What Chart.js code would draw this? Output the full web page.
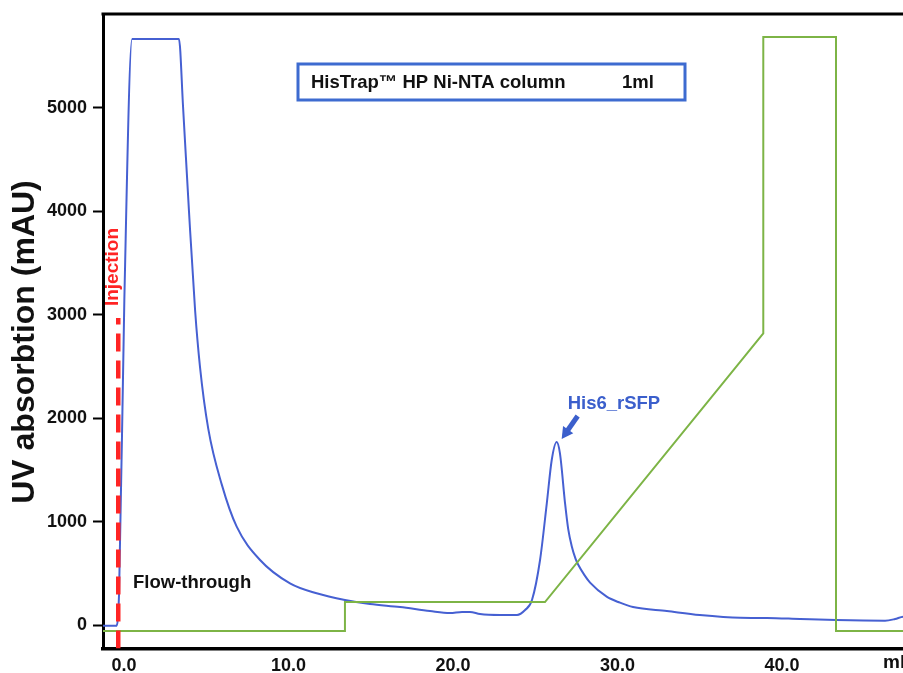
<!DOCTYPE html>
<html>
<head>
<meta charset="utf-8">
<title>HisTrap HP Ni-NTA purification of His6_rSFP</title>
<script src="https://cdn.jsdelivr.net/npm/chart.js@4/dist/chart.umd.min.js"></script>
<style>
  html, body { margin: 0; padding: 0; background: #fff; overflow: hidden; width: 903px; height: 673px; }
  #wrap { position: relative; width: 930px; height: 673px; }
  canvas { display: block; }
</style>
</head>
<body>
<div id="wrap"><canvas id="chrom" width="930" height="673"></canvas></div>
<script>
// Elution volume (ml) and UV absorbance at 280 nm (mAU)
const uvVolume = [-1.28, -0.49, -0.30, 0.02, 0.49, 3.34, 3.59, 3.95, 4.32, 4.62, 5.12, 5.94, 6.85, 8.27,
  10.09, 11.71, 13.43, 14.95, 16.78, 18.6, 19.82, 20.55, 21.03, 21.64, 22.86, 23.89, 24.38, 24.8, 25.29,
  25.7, 26.0, 26.3, 26.5, 26.81, 27.0, 27.22, 27.45, 27.62, 28.0, 28.33, 29.34, 30.15, 30.94, 33.0, 35.0,
  37.45, 39.09, 41.1, 43.28, 46.26, 46.87, 47.36, 48.69];
const uvAbs = [-8, -8, 309, 3143, 5667, 5667, 5010, 4000, 3046, 2495, 1900, 1360, 951, 629,
  403, 307, 242, 203, 174, 135, 116, 126, 126, 106, 97, 97, 145, 242, 629,
  1177, 1596, 1770, 1660, 1177, 930, 760, 640, 580, 480, 410, 274, 216, 174, 135, 97,
  70, 68, 58, 48, 42, 58, 80, 85];

// Imidazole gradient (%B trace, plotted on the mAU axis)
const gradVolume = [-1.28, 13.43, 13.43, 25.59, 38.86, 38.86, 43.28, 43.28, 48.69];
const gradLevel = [-58, -58, 222, 222, 2821, 5687, 5687, -58, -58];

// Sample injection marker
const injectionVolume = -0.35;
const injectionTop = 2970;

// Eluted target protein peak
const peakVolume = 26.3;
const peakAbs = 1770;

// Axis ticks
const volumeTicks = [0, 10, 20, 30, 40];
const absTicks = [0, 1000, 2000, 3000, 4000, 5000];

const X_MIN = -1.277, X_MAX = 48.69;
const Y_MIN = -227, Y_MAX = 5909;

const FONT = '"Liberation Sans", Arial, Helvetica, sans-serif';
const BLUE = '#4660d2';
const GREEN = '#7db446';
const RED = '#ff2424';
const LABEL_BLUE = '#3b5fcc';

const pairs = (xs, ys) => xs.map((v, i) => ({ x: v, y: ys[i] }));

const decorations = {
  id: 'decorations',
  afterDatasetsDraw(chart) {
    const { ctx, chartArea, scales: { x, y } } = chart;
    ctx.save();

    // top frame line
    ctx.strokeStyle = '#000';
    ctx.lineWidth = 3;
    ctx.beginPath();
    ctx.moveTo(chartArea.left - 1.5, chartArea.top);
    ctx.lineTo(chartArea.right, chartArea.top);
    ctx.stroke();

    // y axis title
    ctx.save();
    ctx.translate(25, 342);
    ctx.rotate(-Math.PI / 2);
    ctx.fillStyle = '#111';
    ctx.font = `bold 32px ${FONT}`;
    ctx.textAlign = 'center';
    ctx.textBaseline = 'middle';
    ctx.fillText('UV absorbtion (mAU)', 0, 0);
    ctx.restore();

    // column info box
    ctx.strokeStyle = '#3d6bd0';
    ctx.lineWidth = 3;
    ctx.strokeRect(298, 64, 387, 36);
    ctx.fillStyle = '#111';
    ctx.font = `bold 18.5px ${FONT}`;
    ctx.textAlign = 'left';
    ctx.textBaseline = 'middle';
    ctx.fillText('HisTrap\u2122 HP Ni-NTA column', 311, 83);
    ctx.fillText('1ml', 622, 83);

    // flow-through label
    ctx.fillText('Flow-through', x.getPixelForValue(0.55), y.getPixelForValue(406));

    // injection label, rotated beside the dashed marker
    ctx.save();
    ctx.translate(x.getPixelForValue(injectionVolume) - 5, y.getPixelForValue(3462));
    ctx.rotate(-Math.PI / 2);
    ctx.fillStyle = RED;
    ctx.font = `bold 19px ${FONT}`;
    ctx.textAlign = 'center';
    ctx.textBaseline = 'middle';
    ctx.fillText('Injection', 0, 0);
    ctx.restore();

    // arrow pointing at the eluted peak
    const tipX = x.getPixelForValue(peakVolume) + 5;
    const tipY = y.getPixelForValue(peakAbs) - 3;
    const tailX = tipX + 16, tailY = tipY - 23;
    const ang = Math.atan2(tipY - tailY, tipX - tailX);
    const head = 13;
    ctx.strokeStyle = LABEL_BLUE;
    ctx.fillStyle = LABEL_BLUE;
    ctx.lineWidth = 5;
    ctx.beginPath();
    ctx.moveTo(tailX, tailY);
    ctx.lineTo(tipX - Math.cos(ang) * head * 0.7, tipY - Math.sin(ang) * head * 0.7);
    ctx.stroke();
    ctx.beginPath();
    ctx.moveTo(tipX, tipY);
    ctx.lineTo(tipX - head * Math.cos(ang - 0.5), tipY - head * Math.sin(ang - 0.5));
    ctx.lineTo(tipX - head * Math.cos(ang + 0.5), tipY - head * Math.sin(ang + 0.5));
    ctx.closePath();
    ctx.fill();

    ctx.font = `bold 18.5px ${FONT}`;
    ctx.textAlign = 'left';
    ctx.textBaseline = 'middle';
    ctx.fillText('His6_rSFP', tipX + 6, tipY - 35);

    // x axis unit
    ctx.fillStyle = '#111';
    ctx.font = `bold 19px ${FONT}`;
    ctx.fillText('ml', 883, 663);

    ctx.restore();
  }
};

new Chart(document.getElementById('chrom'), {
  type: 'line',
  data: {
    datasets: [
      {
        label: 'Injection',
        data: [{ x: injectionVolume, y: Y_MIN }, { x: injectionVolume, y: injectionTop }],
        borderColor: RED,
        borderWidth: 4.5,
        borderDash: [18, 9],
        pointRadius: 0,
        fill: false
      },
      {
        label: 'Gradient',
        data: pairs(gradVolume, gradLevel),
        borderColor: GREEN,
        borderWidth: 2,
        pointRadius: 0,
        tension: 0,
        fill: false
      },
      {
        label: 'UV 280 nm',
        data: pairs(uvVolume, uvAbs),
        borderColor: BLUE,
        borderWidth: 2,
        pointRadius: 0,
        cubicInterpolationMode: 'monotone',
        fill: false
      }
    ]
  },
  options: {
    responsive: false,
    animation: false,
    devicePixelRatio: 1,
    layout: { padding: { left: 0, top: 14, right: 5, bottom: 0 } },
    plugins: { legend: { display: false }, tooltip: { enabled: false } },
    scales: {
      x: {
        type: 'linear',
        position: 'bottom',
        min: X_MIN,
        max: X_MAX,
        border: { display: true, color: '#000', width: 3.5 },
        grid: { display: false },
        ticks: {
          autoSkip: false,
          maxRotation: 0,
          padding: -1.5,
          color: '#111',
          font: { family: FONT, size: 18, weight: 'bold' },
          callback: v => Number(v).toFixed(1)
        },
        afterBuildTicks: s => { s.ticks = volumeTicks.map(v => ({ value: v })); },
        afterFit: s => { s.height = 24.5; s.paddingLeft = 0; s.paddingRight = 0; }
      },
      y: {
        type: 'linear',
        position: 'left',
        min: Y_MIN,
        max: Y_MAX,
        border: { display: true, color: '#000', width: 3 },
        grid: { drawOnChartArea: false, drawTicks: true, tickLength: 10, tickWidth: 2, tickColor: '#000' },
        ticks: {
          padding: 6,
          color: '#111',
          font: { family: FONT, size: 18, weight: 'bold' },
          callback: v => String(v)
        },
        afterBuildTicks: s => { s.ticks = absTicks.map(v => ({ value: v })); },
        afterFit: s => { s.width = 103; s.paddingTop = 0; s.paddingBottom = 0; }
      }
    }
  },
  plugins: [decorations]
});
</script>
</body>
</html>
